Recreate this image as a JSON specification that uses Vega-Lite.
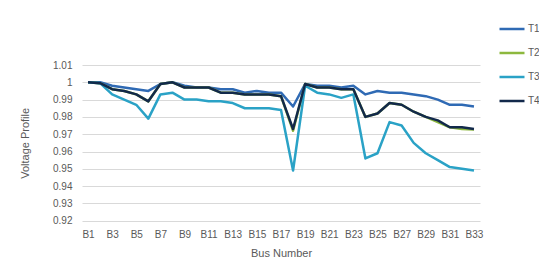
{
  "$schema": "https://vega.github.io/schema/vega-lite/v6.json",
  "width": 398,
  "height": 155.7,
  "autosize": {"type": "none"},
  "padding": {"left": 82, "top": 65, "right": 59, "bottom": 46.3},
  "background": "white",
  "config": {"view": {"stroke": null}, "font": "Liberation Sans"},
  "data": {"values": [
    {"b":"B1","s":"T1","v":1.000},{"b":"B2","s":"T1","v":1.000},{"b":"B3","s":"T1","v":0.998},{"b":"B4","s":"T1","v":0.997},{"b":"B5","s":"T1","v":0.996},{"b":"B6","s":"T1","v":0.995},{"b":"B7","s":"T1","v":0.999},{"b":"B8","s":"T1","v":1.000},{"b":"B9","s":"T1","v":0.998},{"b":"B10","s":"T1","v":0.997},{"b":"B11","s":"T1","v":0.997},{"b":"B12","s":"T1","v":0.996},{"b":"B13","s":"T1","v":0.996},{"b":"B14","s":"T1","v":0.994},{"b":"B15","s":"T1","v":0.995},{"b":"B16","s":"T1","v":0.994},{"b":"B17","s":"T1","v":0.994},{"b":"B18","s":"T1","v":0.986},{"b":"B19","s":"T1","v":0.999},{"b":"B20","s":"T1","v":0.998},{"b":"B21","s":"T1","v":0.998},{"b":"B22","s":"T1","v":0.997},{"b":"B23","s":"T1","v":0.998},{"b":"B24","s":"T1","v":0.993},{"b":"B25","s":"T1","v":0.995},{"b":"B26","s":"T1","v":0.994},{"b":"B27","s":"T1","v":0.994},{"b":"B28","s":"T1","v":0.993},{"b":"B29","s":"T1","v":0.992},{"b":"B30","s":"T1","v":0.990},{"b":"B31","s":"T1","v":0.987},{"b":"B32","s":"T1","v":0.987},{"b":"B33","s":"T1","v":0.986},
    {"b":"B1","s":"T2","v":1.000},{"b":"B2","s":"T2","v":0.9995},{"b":"B3","s":"T2","v":0.996},{"b":"B4","s":"T2","v":0.995},{"b":"B5","s":"T2","v":0.993},{"b":"B6","s":"T2","v":0.989},{"b":"B7","s":"T2","v":0.999},{"b":"B8","s":"T2","v":1.000},{"b":"B9","s":"T2","v":0.997},{"b":"B10","s":"T2","v":0.997},{"b":"B11","s":"T2","v":0.997},{"b":"B12","s":"T2","v":0.994},{"b":"B13","s":"T2","v":0.994},{"b":"B14","s":"T2","v":0.993},{"b":"B15","s":"T2","v":0.993},{"b":"B16","s":"T2","v":0.993},{"b":"B17","s":"T2","v":0.992},{"b":"B18","s":"T2","v":0.972},{"b":"B19","s":"T2","v":0.999},{"b":"B20","s":"T2","v":0.997},{"b":"B21","s":"T2","v":0.997},{"b":"B22","s":"T2","v":0.996},{"b":"B23","s":"T2","v":0.996},{"b":"B24","s":"T2","v":0.980},{"b":"B25","s":"T2","v":0.982},{"b":"B26","s":"T2","v":0.988},{"b":"B27","s":"T2","v":0.987},{"b":"B28","s":"T2","v":0.983},{"b":"B29","s":"T2","v":0.980},{"b":"B30","s":"T2","v":0.977},{"b":"B31","s":"T2","v":0.974},{"b":"B32","s":"T2","v":0.973},{"b":"B33","s":"T2","v":0.9727},
    {"b":"B1","s":"T3","v":1.000},{"b":"B2","s":"T3","v":0.9995},{"b":"B3","s":"T3","v":0.993},{"b":"B4","s":"T3","v":0.990},{"b":"B5","s":"T3","v":0.987},{"b":"B6","s":"T3","v":0.979},{"b":"B7","s":"T3","v":0.993},{"b":"B8","s":"T3","v":0.994},{"b":"B9","s":"T3","v":0.990},{"b":"B10","s":"T3","v":0.990},{"b":"B11","s":"T3","v":0.989},{"b":"B12","s":"T3","v":0.989},{"b":"B13","s":"T3","v":0.988},{"b":"B14","s":"T3","v":0.985},{"b":"B15","s":"T3","v":0.985},{"b":"B16","s":"T3","v":0.985},{"b":"B17","s":"T3","v":0.984},{"b":"B18","s":"T3","v":0.949},{"b":"B19","s":"T3","v":0.998},{"b":"B20","s":"T3","v":0.994},{"b":"B21","s":"T3","v":0.993},{"b":"B22","s":"T3","v":0.991},{"b":"B23","s":"T3","v":0.993},{"b":"B24","s":"T3","v":0.956},{"b":"B25","s":"T3","v":0.959},{"b":"B26","s":"T3","v":0.977},{"b":"B27","s":"T3","v":0.975},{"b":"B28","s":"T3","v":0.965},{"b":"B29","s":"T3","v":0.959},{"b":"B30","s":"T3","v":0.955},{"b":"B31","s":"T3","v":0.951},{"b":"B32","s":"T3","v":0.950},{"b":"B33","s":"T3","v":0.949},
    {"b":"B1","s":"T4","v":1.000},{"b":"B2","s":"T4","v":0.9995},{"b":"B3","s":"T4","v":0.996},{"b":"B4","s":"T4","v":0.995},{"b":"B5","s":"T4","v":0.993},{"b":"B6","s":"T4","v":0.989},{"b":"B7","s":"T4","v":0.999},{"b":"B8","s":"T4","v":1.000},{"b":"B9","s":"T4","v":0.997},{"b":"B10","s":"T4","v":0.997},{"b":"B11","s":"T4","v":0.997},{"b":"B12","s":"T4","v":0.994},{"b":"B13","s":"T4","v":0.994},{"b":"B14","s":"T4","v":0.993},{"b":"B15","s":"T4","v":0.993},{"b":"B16","s":"T4","v":0.993},{"b":"B17","s":"T4","v":0.992},{"b":"B18","s":"T4","v":0.973},{"b":"B19","s":"T4","v":0.999},{"b":"B20","s":"T4","v":0.997},{"b":"B21","s":"T4","v":0.997},{"b":"B22","s":"T4","v":0.996},{"b":"B23","s":"T4","v":0.996},{"b":"B24","s":"T4","v":0.980},{"b":"B25","s":"T4","v":0.982},{"b":"B26","s":"T4","v":0.988},{"b":"B27","s":"T4","v":0.987},{"b":"B28","s":"T4","v":0.983},{"b":"B29","s":"T4","v":0.980},{"b":"B30","s":"T4","v":0.978},{"b":"B31","s":"T4","v":0.974},{"b":"B32","s":"T4","v":0.974},{"b":"B33","s":"T4","v":0.973}
  ]},
  "mark": {"type": "line", "strokeWidth": 2.5, "strokeJoin": "round"},
  "encoding": {
    "x": {
      "field": "b", "type": "ordinal",
      "sort": ["B1","B2","B3","B4","B5","B6","B7","B8","B9","B10","B11","B12","B13","B14","B15","B16","B17","B18","B19","B20","B21","B22","B23","B24","B25","B26","B27","B28","B29","B30","B31","B32","B33"],
      "scale": {"padding": 0.5},
      "axis": {
        "values": ["B1","B3","B5","B7","B9","B11","B13","B15","B17","B19","B21","B23","B25","B27","B29","B31","B33"],
        "labelAngle": 0, "domain": false, "ticks": false, "grid": false,
        "labelPadding": 9, "labelFontSize": 10, "labelColor": "#595959",
        "title": "Bus Number", "titleFontSize": 11, "titleFontWeight": "normal", "titleColor": "#595959", "titlePadding": 8
      }
    },
    "y": {
      "field": "v", "type": "quantitative",
      "scale": {"domain": [0.92, 1.01], "zero": false, "nice": false},
      "axis": {
        "values": [0.92,0.93,0.94,0.95,0.96,0.97,0.98,0.99,1.0,1.01],
        "format": ".2~f", "domain": false, "ticks": false, "grid": true, "gridColor": "#D9D9D9", "gridWidth": 1,
        "labelPadding": 10, "labelFontSize": 10, "labelColor": "#595959",
        "title": "Voltage Profile", "titleFontSize": 11, "titleFontWeight": "normal", "titleColor": "#595959", "titlePadding": 22
      }
    },
    "color": {
      "field": "s", "type": "nominal",
      "scale": {"domain": ["T1","T2","T3","T4"], "range": ["#2F6AB4","#8DB83E","#2AA2C6","#12294B"]},
      "legend": {
        "title": null, "orient": "none", "legendX": 416, "legendY": -50,
        "symbolType": "stroke", "symbolSize": 625, "symbolStrokeWidth": 2.5,
        "labelFontSize": 10, "labelColor": "#595959", "labelOffset": 2, "rowPadding": 5
      }
    }
  }
}
